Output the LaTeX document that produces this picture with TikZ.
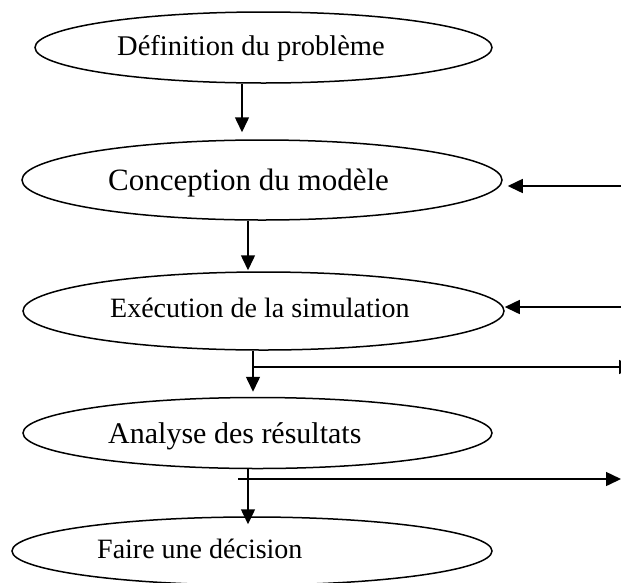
\documentclass[tikz,border=0pt]{standalone}
\usepackage{fontspec}
\setmainfont{Liberation Serif}
\usetikzlibrary{shapes.geometric,arrows.meta}
\begin{document}
\begin{tikzpicture}[x=1pt,y=-1pt,
  box/.style={draw,ellipse,line width=1.5pt,inner sep=0pt},
  lbl/.style={anchor=base west,inner sep=0pt},
  arr/.style={line width=1.5pt,-{Triangle[length=15pt,width=14pt]}}]
\useasboundingbox (0,0) rectangle (621,582);
% ellipses
\node[box,minimum width=457pt,minimum height=71pt] (e1) at (263.5,47.5) {};
\node[box,minimum width=480pt,minimum height=80pt] (e2) at (262,180) {};
\node[box,minimum width=481pt,minimum height=78pt] (e3) at (263.5,311) {};
\node[box,minimum width=469pt,minimum height=71pt] (e4) at (257.5,433) {};
\node[box,minimum width=480pt,minimum height=68pt] (e5) at (252,551) {};
% labels
\node[lbl,font=\fontsize{28.5}{30}\selectfont] (t1) at (117,55) {Définition du problème};
\node[lbl,font=\fontsize{31}{33}\selectfont] (t2) at (108,190) {Conception du modèle};
\node[lbl,font=\fontsize{28}{30}\selectfont] (t3) at (110,317) {Exécution de la simulation};
\node[lbl,font=\fontsize{30}{32}\selectfont] (t4) at (108,443) {Analyse des résultats};
\node[lbl,font=\fontsize{28}{30}\selectfont] (t5) at (97,558) {Faire une décision};
% vertical connectors
\coordinate (x1) at (242,0);
\coordinate (x2) at (248,0);
\coordinate (x3) at (253,0);
\coordinate (x4) at (248,0);
\draw[arr,shorten >=7pt] (x1 |- e1.south) -- (x1 |- e2.north);
\draw[arr,shorten >=1pt] (x2 |- e2.south) -- (x2 |- e3.north);
\draw[arr,shorten >=5pt] (x3 |- e3.south) -- (x3 |- e4.north);
\draw[arr,shorten >=-8pt] (x4 |- e4.south) -- (x4 |- e5.north);
% feedback arrows from the right
\coordinate (f2) at (625,186);
\coordinate (f3) at (625,307);
\draw[arr,shorten >=5pt] (f2) -- (f2 -| e2.east);
\draw[arr] (f3) -- (f3 -| e3.east);
% branches to the right
\coordinate (b3s) at (253,367);
\coordinate (b3e) at (634,367);
\coordinate (b4s) at (238,479);
\coordinate (b4e) at (621,479);
\draw[arr] (b3s) -- (b3e);
\draw[arr] (b4s) -- (b4e);
\end{tikzpicture}
\end{document}
